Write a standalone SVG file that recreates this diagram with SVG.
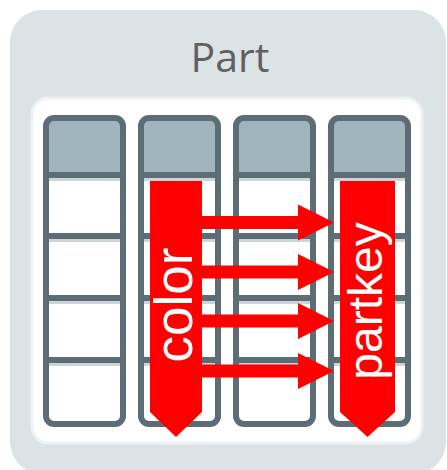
<svg xmlns="http://www.w3.org/2000/svg" width="447" height="470" viewBox="0 0 447 470">
  <style>
    .panel { fill: #dce3e5; }
    .inner { fill: #ffffff; stroke: #eef2f3; stroke-width: 3; }
    .title { font-family: "Open Sans", "Liberation Sans", sans-serif; font-size: 41px; fill: #606060; }
    .col { fill: #ffffff; stroke: #5c6d75; stroke-width: 6; }
    .head { fill: #9fb4bd; }
    .sep { stroke: #5c6d75; stroke-width: 6; }
    .shade { stroke: #cdd5d8; stroke-width: 3; }
    .hl { fill: #ff0000; }
    .label { font-family: "Liberation Sans", Arial, sans-serif; fill: #ffffff; text-anchor: middle; }
  </style>
  <defs>
    <!-- one table column: header cell plus four rows -->
    <g id="column">
      <rect class="head" x="0" y="0" width="77" height="57" rx="8"/>
      <line class="shade" x1="3" y1="179.5" x2="74" y2="179.5" transform="translate(0,-118)"/>
      <line class="shade" x1="3" y1="240.5" x2="74" y2="240.5" transform="translate(0,-118)"/>
      <line class="shade" x1="3" y1="302.5" x2="74" y2="302.5" transform="translate(0,-118)"/>
      <line class="shade" x1="3" y1="364.5" x2="74" y2="364.5" transform="translate(0,-118)"/>
      <rect x="0" y="0" width="77" height="306" rx="8" fill="none" stroke="#5c6d75" stroke-width="6"/>
      <line class="sep" x1="0" y1="57" x2="77" y2="57"/>
      <line class="sep" x1="0" y1="118" x2="77" y2="118"/>
      <line class="sep" x1="0" y1="180" x2="77" y2="180"/>
      <line class="sep" x1="0" y1="242" x2="77" y2="242"/>
    </g>
    <!-- horizontal block arrow, tip at the origin -->
    <path id="harrow" d="M -132 -6.5 H -36 V -18 L 0 0 L -36 18 V 6.5 H -132 Z"/>
  </defs>

  <g id="part-table">
    <rect class="panel" x="10" y="10" width="436" height="464" rx="32"/>
    <text class="title" x="230" y="72" text-anchor="middle">Part</text>
    <rect class="inner" x="32" y="98" width="390" height="345" rx="16"/>
  </g>

  <g id="columns">
    <rect x="46" y="118" width="77" height="306" rx="8" fill="#ffffff"/>
    <rect x="141" y="118" width="77" height="306" rx="8" fill="#ffffff"/>
    <rect x="236" y="118" width="77" height="306" rx="8" fill="#ffffff"/>
    <rect x="331" y="118" width="77" height="306" rx="8" fill="#ffffff"/>
    <use href="#column" x="46" y="118"/>
    <use href="#column" x="141" y="118"/>
    <use href="#column" x="236" y="118"/>
    <use href="#column" x="331" y="118"/>
  </g>

  <g id="color">
    <polygon class="hl" points="150,181 202,181 202,412 176,437 150,412"/>
    <text class="label" font-size="53" transform="translate(192,305) rotate(-90)">color</text>
  </g>

  <g id="partkey">
    <polygon class="hl" points="340,181 395,181 395,412 367.5,437 340,412"/>
    <text class="label" font-size="48" transform="translate(382,301) rotate(-90)">partkey</text>
  </g>

  <g id="connectors" class="hl">
    <use href="#harrow" x="334" y="222.5"/>
    <use href="#harrow" x="334" y="272"/>
    <use href="#harrow" x="334" y="321"/>
    <use href="#harrow" x="334" y="371"/>
  </g>
</svg>
